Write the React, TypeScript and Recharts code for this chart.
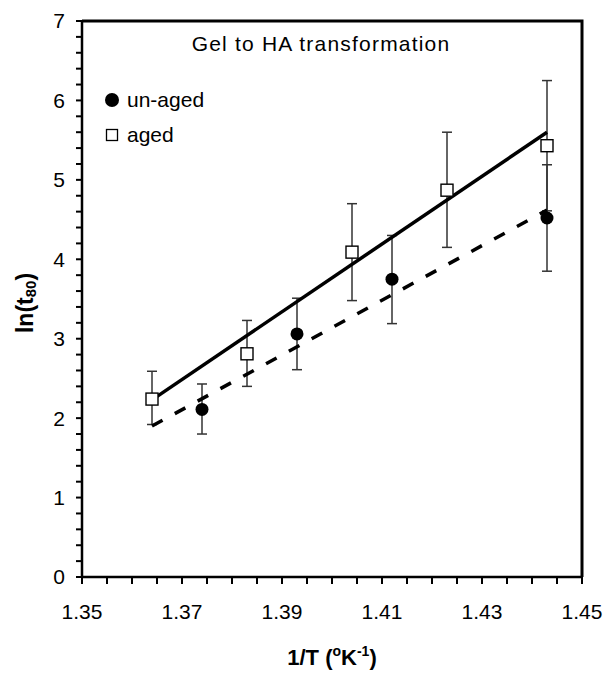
import React from 'react';
import {
  ComposedChart,
  Scatter,
  XAxis,
  YAxis,
  ErrorBar,
  Label,
} from 'recharts';

// aged samples (open squares)
const agedX = [1.364, 1.383, 1.404, 1.423, 1.443];
const agedY = [2.24, 2.81, 4.09, 4.87, 5.43];
const agedLow = [1.92, 2.4, 3.48, 4.15, 4.61];
const agedHigh = [2.59, 3.23, 4.7, 5.6, 6.25];

// un-aged samples (filled circles)
const unagedX = [1.374, 1.393, 1.412, 1.443];
const unagedY = [2.11, 3.06, 3.75, 4.52];
const unagedLow = [1.8, 2.61, 3.19, 3.85];
const unagedHigh = [2.43, 3.51, 4.3, 5.19];

// linear fits (end points)
const agedFitX = [1.364, 1.443];
const agedFitY = [2.23, 5.6];
const unagedFitX = [1.364, 1.443];
const unagedFitY = [1.9, 4.62];

const xTicks = [
  1.35, 1.355, 1.36, 1.365, 1.37, 1.375, 1.38, 1.385, 1.39, 1.395, 1.4,
  1.405, 1.41, 1.415, 1.42, 1.425, 1.43, 1.435, 1.44, 1.445, 1.45,
];
const xLabels = ['1.35', '1.37', '1.39', '1.41', '1.43', '1.45'];
const yTicks = [
  0, 0.2, 0.4, 0.6, 0.8, 1, 1.2, 1.4, 1.6, 1.8, 2, 2.2, 2.4, 2.6, 2.8, 3,
  3.2, 3.4, 3.6, 3.8, 4, 4.2, 4.4, 4.6, 4.8, 5, 5.2, 5.4, 5.6, 5.8, 6, 6.2,
  6.4, 6.6, 6.8, 7,
];
const yLabels = ['0', '1', '2', '3', '4', '5', '6', '7'];

const FONT = '"Liberation Sans", Arial, sans-serif';

const agedData = agedX.map((x, i) => ({
  x,
  y: agedY[i],
  err: [agedY[i] - agedLow[i], agedHigh[i] - agedY[i]],
}));
const unagedData = unagedX.map((x, i) => ({
  x,
  y: unagedY[i],
  err: [unagedY[i] - unagedLow[i], unagedHigh[i] - unagedY[i]],
}));
const agedFit = agedFitX.map((x, i) => ({ x, y: agedFitY[i] }));
const unagedFit = unagedFitX.map((x, i) => ({ x, y: unagedFitY[i] }));

const fmtX = (v: number) => {
  const s = v.toFixed(2);
  return Math.abs(v * 100 - Math.round(v * 100)) < 1e-6 && xLabels.includes(s) ? s : '';
};
const fmtY = (v: number) => {
  const s = String(Math.round(v));
  return Math.abs(v - Math.round(v)) < 1e-6 && yLabels.includes(s) ? s : '';
};

const Circle = (props: any) => {
  const { cx, cy } = props;
  return <circle cx={cx} cy={cy} r={6.5} fill="#000" />;
};
const Square = (props: any) => {
  const { cx, cy } = props;
  return <rect x={cx - 6} y={cy - 6} width={12} height={12} fill="#fff" stroke="#000" strokeWidth={1.4} />;
};
const NoDot = () => <g />;

const YTitle = (props: any) => {
  const { viewBox } = props;
  const cy = viewBox.y + viewBox.height / 2 + 4;
  return (
    <text
      x={25}
      y={cy}
      transform={`rotate(-90, 25, ${cy})`}
      textAnchor="middle"
      dominantBaseline="central"
      fontFamily={FONT}
      fontWeight="bold"
      fontSize={23}
      fill="#000"
    >
      ln(t
      <tspan fontSize={15} dy={5}>80</tspan>
      <tspan dy={-5}>)</tspan>
    </text>
  );
};

const XTitle = (props: any) => {
  const { viewBox } = props;
  const cx = viewBox.x + viewBox.width / 2;
  return (
    <text
      x={cx}
      y={665}
      textAnchor="middle"
      fontFamily={FONT}
      fontWeight="bold"
      fontSize={22}
      fill="#000"
    >
      1/T (
      <tspan fontSize={14} dy={-9}>o</tspan>
      <tspan dy={9}>K</tspan>
      <tspan fontSize={14} dy={-9}>-1</tspan>
      <tspan dy={9}>)</tspan>
    </text>
  );
};

export default function App() {
  return (
    <div style={{ position: 'absolute', left: 0, top: 0, width: 605, height: 673, background: '#fff' }}>
      <ComposedChart
        width={605}
        height={673}
        margin={{ top: 21, right: 23, bottom: 0, left: 0 }}
      >
        <XAxis
          type="number"
          dataKey="x"
          domain={[1.35, 1.45]}
          ticks={xTicks}
          tickFormatter={fmtX}
          interval={0}
          height={96}
          tickSize={7}
          tickMargin={20}
          axisLine={{ stroke: '#000', strokeWidth: 2.5 }}
          tickLine={{ stroke: '#000', strokeWidth: 2 }}
          tick={{ fill: '#000', fontSize: 21, fontFamily: FONT }}
        >
          <Label content={<XTitle />} />
        </XAxis>
        <YAxis
          type="number"
          dataKey="y"
          domain={[0, 7]}
          ticks={yTicks}
          tickFormatter={fmtY}
          interval={0}
          width={82}
          tickSize={6}
          tickMargin={11}
          axisLine={{ stroke: '#000', strokeWidth: 2.5 }}
          tickLine={{ stroke: '#000', strokeWidth: 2 }}
          tick={{ fill: '#000', fontSize: 21, fontFamily: FONT }}
        >
          <Label content={<YTitle />} />
        </YAxis>
        <Scatter
          data={agedFit}
          dataKey="y"
          line={{ stroke: '#000', strokeWidth: 3.5 }}
          shape={<NoDot />}
          isAnimationActive={false}
        />
        <Scatter
          data={unagedFit}
          dataKey="y"
          line={{ stroke: '#000', strokeWidth: 3.5, strokeDasharray: '12 14' }}
          shape={<NoDot />}
          isAnimationActive={false}
        />
        <Scatter data={unagedData} dataKey="y" shape={<Circle />} isAnimationActive={false}>
          <ErrorBar dataKey="err" direction="y" width={5} stroke="#333" strokeWidth={1.5} isAnimationActive={false} />
        </Scatter>
        <Scatter data={agedData} dataKey="y" shape={<Square />} isAnimationActive={false}>
          <ErrorBar dataKey="err" direction="y" width={5} stroke="#333" strokeWidth={1.5} isAnimationActive={false} />
        </Scatter>
      </ComposedChart>

      {/* top and right sides of the plot box */}
      <svg
        width={605}
        height={673}
        style={{ position: 'absolute', left: 0, top: 0, pointerEvents: 'none' }}
      >
        <path d="M82,21 H582 V577" fill="none" stroke="#000" strokeWidth={3} />
      </svg>

      <div
        style={{
          position: 'absolute',
          left: 0,
          width: 642,
          top: 32,
          textAlign: 'center',
          fontFamily: FONT,
          fontSize: 21,
          letterSpacing: 1.2,
          color: '#000',
          lineHeight: '24px',
        }}
      >
        Gel to HA transformation
      </div>
      <div style={{ position: 'absolute', left: 104, top: 88, fontFamily: FONT, fontSize: 21, color: '#000', lineHeight: '24px' }}>
        <div style={{ display: 'flex', alignItems: 'center', height: 24 }}>
          <svg width={16} height={16} style={{ marginRight: 7 }}>
            <circle cx={8} cy={8} r={7} fill="#000" />
          </svg>
          un-aged
        </div>
        <div style={{ display: 'flex', alignItems: 'center', height: 24, marginTop: 11 }}>
          <svg width={16} height={16} style={{ marginRight: 7 }}>
            <rect x={2.5} y={2.5} width={11} height={11} fill="#fff" stroke="#000" strokeWidth={1.3} />
          </svg>
          aged
        </div>
      </div>
    </div>
  );
}
